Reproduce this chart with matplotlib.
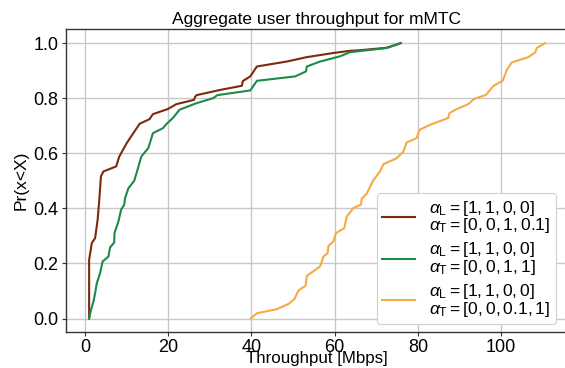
import matplotlib
matplotlib.use("Agg")
import matplotlib.pyplot as plt

plt.rcParams['font.family'] = ['Liberation Sans', 'DejaVu Sans']
plt.rcParams['mathtext.fontset'] = 'custom'
plt.rcParams['mathtext.rm'] = 'Liberation Sans'
plt.rcParams['mathtext.it'] = 'Liberation Sans:italic'

title = "Aggregate user throughput for mMTC"
xlabel = "Throughput [Mbps]"
ylabel = "Pr(x<X)"

labels = [
    "$\\alpha_{\\mathrm{L}} = [1, 1, 0, 0]$\n$\\alpha_{\\mathrm{T}} = [0, 0, 1, 0.1]$",
    "$\\alpha_{\\mathrm{L}} = [1, 1, 0, 0]$\n$\\alpha_{\\mathrm{T}} = [0, 0, 1, 1]$",
    "$\\alpha_{\\mathrm{L}} = [1, 1, 0, 0]$\n$\\alpha_{\\mathrm{T}} = [0, 0, 0.1, 1]$",
]
colors = ["#7b2a0c", "#1b8a4a", "#f7a945"]

brown_x = [0.96, 0.96, 1.6, 2.4, 3.0, 3.4, 3.8, 4.4, 7.45, 8.2, 10.0, 13.1, 15.5, 16.3,
           19.8, 21.9, 26.2, 26.4, 26.8, 32.5, 37.7, 37.9, 39.7, 41.3, 48.5, 53.3, 59.7,
           63.7, 66.1, 72.5, 75.9]
brown_y = [0.0, 0.213, 0.274, 0.292, 0.358, 0.431, 0.516, 0.534, 0.552, 0.588, 0.637,
           0.707, 0.724, 0.742, 0.760, 0.778, 0.794, 0.804, 0.811, 0.830, 0.845, 0.862,
           0.879, 0.915, 0.933, 0.949, 0.964, 0.972, 0.974, 0.983, 1.0]

green_x = [0.96, 1.4, 2.0, 2.4, 2.8, 3.6, 4.2, 5.6, 6.0, 7.0, 7.05, 8.0, 8.65, 9.4, 9.6,
           10.4, 11.8, 12.6, 13.5, 15.2, 16.3, 18.7, 19.6, 21.1, 22.7, 26.8, 30.8, 31.8,
           39.7, 41.3, 50.5, 53.1, 53.3, 56.5, 61.3, 63.7, 72.5, 75.9]
green_y = [0.0, 0.031, 0.062, 0.092, 0.128, 0.165, 0.207, 0.225, 0.258, 0.276, 0.310,
           0.352, 0.395, 0.413, 0.437, 0.473, 0.500, 0.540, 0.588, 0.619, 0.673, 0.691,
           0.707, 0.728, 0.758, 0.782, 0.800, 0.811, 0.828, 0.863, 0.879, 0.897, 0.915,
           0.933, 0.952, 0.967, 0.982, 1.0]

orange_x = [39.8, 41.3, 46.1, 48.9, 50.3, 51.3, 53.0, 53.3, 56.5, 57.3, 58.3, 58.5, 59.7,
            60.3, 62.3, 62.9, 64.5, 66.3, 66.5, 67.7, 69.2, 70.9, 71.7, 74.9, 76.5, 77.3,
            79.7, 80.4, 82.9, 87.3, 87.6, 89.3, 92.1, 93.5, 96.4, 98.2, 100.4, 101.4,
            102.6, 106.6, 108.2, 108.6, 110.6]
orange_y = [0.0, 0.019, 0.034, 0.053, 0.070, 0.102, 0.119, 0.155, 0.189, 0.225, 0.237,
            0.264, 0.280, 0.310, 0.328, 0.370, 0.401, 0.413, 0.435, 0.453, 0.500, 0.534,
            0.560, 0.582, 0.606, 0.639, 0.655, 0.685, 0.703, 0.728, 0.746, 0.760, 0.778,
            0.797, 0.812, 0.845, 0.863, 0.903, 0.930, 0.949, 0.966, 0.982, 1.0]

series = [(brown_x, brown_y), (green_x, green_y), (orange_x, orange_y)]

W, H = 565, 368
fig = plt.figure(figsize=(W / 100, H / 100), dpi=100)
ax = fig.add_axes([66 / W, 1 - 332.3 / H, (568 - 66) / W, (332.3 - 29.3) / H])

for (xs, ys), c, lab in zip(series, colors, labels):
    ax.plot(xs, ys, color=c, lw=1.5, label=lab)

ax.set_xlim(-4.6, 116.1)
ax.set_ylim(-0.05, 1.05)
ax.set_xticks([0, 20, 40, 60, 80, 100])
ax.set_yticks([0.0, 0.2, 0.4, 0.6, 0.8, 1.0])
ax.set_yticklabels(["0.0", "0.2", "0.4", "0.6", "0.8", "1.0"])
ax.grid(True, color="#c8c8c8", lw=1.0)
ax.set_axisbelow(True)
ax.tick_params(labelsize=13, length=3, width=0.8, color="#333333", pad=2.5)
ax.tick_params(axis="x", pad=2)
for s in ax.spines.values():
    s.set_color("#333333")
    s.set_linewidth(1.0)

ax.set_title(title, fontsize=12.5, pad=4)
ax.set_xlabel(xlabel, fontsize=12.2, labelpad=-3.5)
ax.set_ylabel(ylabel, fontsize=12.5, labelpad=3)

leg = ax.legend(loc="lower right", bbox_to_anchor=(0.976, 0.027), borderaxespad=0,
                fontsize=12.6, handlelength=1.9, handletextpad=0.8, labelspacing=0.3,
                borderpad=0.3, framealpha=1.0, edgecolor="#d0d0d0", fancybox=True)
leg.get_frame().set_linewidth(0.8)
for t in leg.get_texts():
    t.set_linespacing(0.9)

fig.savefig("out.png", dpi=100)
